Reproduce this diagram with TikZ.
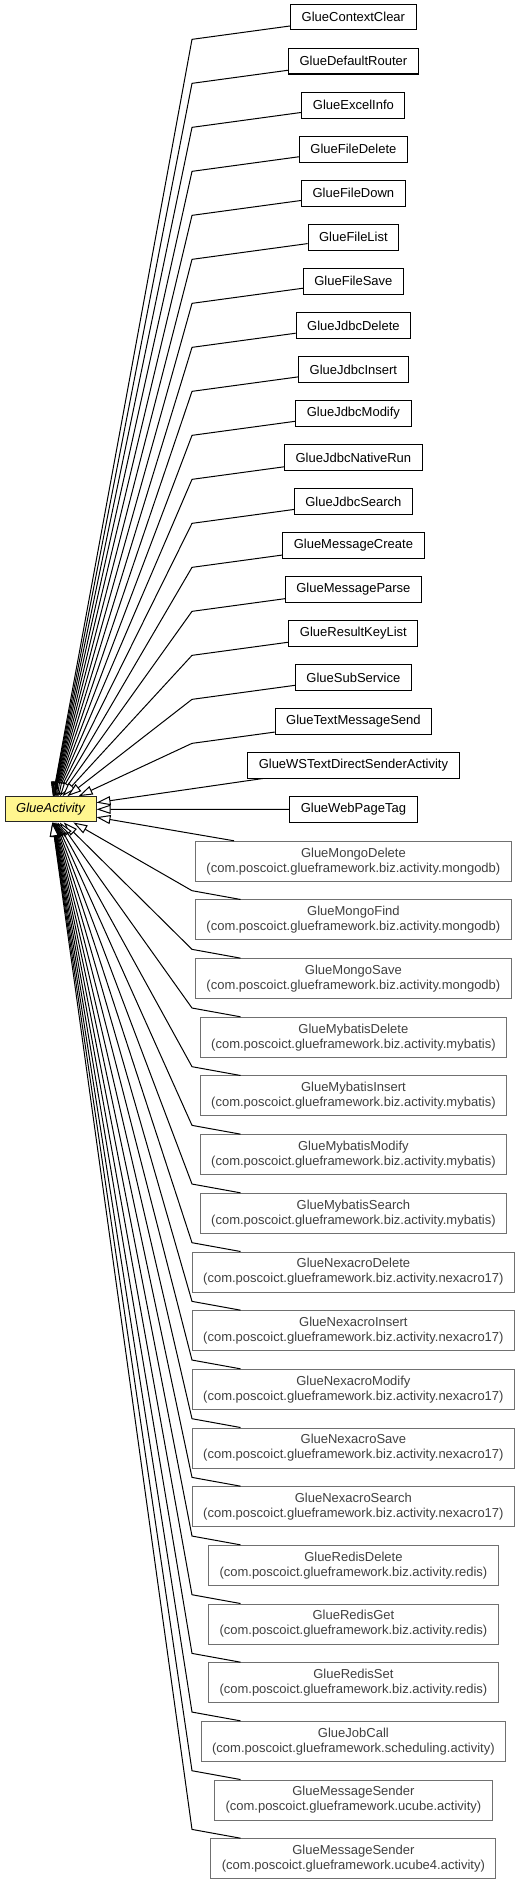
\documentclass[tikz,border=0pt]{standalone}
\usepackage{fontspec}
\setmainfont{Liberation Sans}
\usetikzlibrary{arrows.meta}
\definecolor{gafill}{RGB}{255,246,143}
\definecolor{pkgtext}{RGB}{64,64,64}
\definecolor{pkgline}{RGB}{112,112,112}
\begin{document}
\begin{tikzpicture}[x=1pt,y=-1pt,
  cls/.style={draw=black, line width=1pt, fill=white, inner xsep=11pt, inner ysep=0pt, minimum height=25.3pt, font=\fontsize{13}{15}\selectfont},
  ext/.style={draw=pkgline, line width=1pt, fill=white, text=pkgtext, align=center, inner xsep=11pt, inner ysep=0pt, minimum height=40pt, font=\fontsize{13}{15}\selectfont},
  basecls/.style={draw=black!85, line width=1pt, fill=gafill, inner sep=0pt, minimum width=91pt, minimum height=25.3pt, font=\fontsize{13}{15}\selectfont\itshape},
  gen/.style={line width=1pt, -{Triangle[open, fill=white, length=14pt, width=9pt]}}]
\useasboundingbox (0,0) rectangle (520,1884);

\node[basecls] (GA) at (50.5,809.3) {GlueActivity};

% upper classes
\foreach \n [count=\i from 0] in {GlueContextClear,GlueDefaultRouter,GlueExcelInfo,GlueFileDelete,GlueFileDown,GlueFileList,GlueFileSave,GlueJdbcDelete,GlueJdbcInsert,GlueJdbcModify,GlueJdbcNativeRun,GlueJdbcSearch,GlueMessageCreate,GlueMessageParse,GlueResultKeyList,GlueSubService,GlueTextMessageSend,GlueWSTextDirectSenderActivity,GlueWebPageTag}
  \node[cls] (u\i) at (353.4,17.35+44*\i) {\n};

% lower classes (other packages)
\foreach \n/\p [count=\k from 0] in {GlueMongoDelete/biz.activity.mongodb,GlueMongoFind/biz.activity.mongodb,GlueMongoSave/biz.activity.mongodb,GlueMybatisDelete/biz.activity.mybatis,GlueMybatisInsert/biz.activity.mybatis,GlueMybatisModify/biz.activity.mybatis,GlueMybatisSearch/biz.activity.mybatis,GlueNexacroDelete/biz.activity.nexacro17,GlueNexacroInsert/biz.activity.nexacro17,GlueNexacroModify/biz.activity.nexacro17,GlueNexacroSave/biz.activity.nexacro17,GlueNexacroSearch/biz.activity.nexacro17,GlueRedisDelete/biz.activity.redis,GlueRedisGet/biz.activity.redis,GlueRedisSet/biz.activity.redis,GlueJobCall/scheduling.activity,GlueMessageSender/ucube.activity,GlueMessageSender/ucube4.activity}
  \node[ext] (l\k) at (353.4,861.3+58.67*\k) {\n\\(com.poscoict.glueframework.\p)};

% bend points
\foreach \i in {0,...,16}
  \coordinate (ub\i) at (192,39.35+44*\i);
\foreach \k in {1,...,17}
  \coordinate (lb\k) at (192,832+58.67*\k);

% generalization edges
\foreach \i in {0,...,16}
  \draw[gen] (u\i) -- (ub\i) -- (GA);
\foreach \k in {1,...,17}
  \draw[gen] (l\k) -- (lb\k) -- (GA);
\draw[gen] (u17) -- (GA);
\draw[gen] (u18) -- (GA);
\draw[gen] (l0) -- (GA);
\end{tikzpicture}
\end{document}
